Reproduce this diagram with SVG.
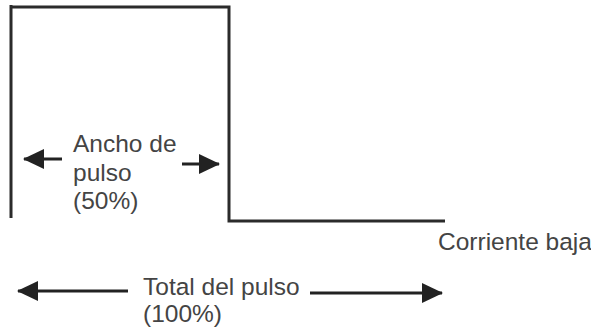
<svg xmlns="http://www.w3.org/2000/svg" width="591" height="333" viewBox="0 0 591 333">
<style>
.ln{fill:none;stroke:#2b2b2b;stroke-width:3;stroke-linejoin:miter}
.ar{fill:none;stroke:#222;stroke-width:3}
.tx{font-family:"Liberation Sans",Arial,sans-serif;font-size:24.5px;fill:#444}
</style>
<defs>
<marker id="ah" markerUnits="userSpaceOnUse" markerWidth="21" markerHeight="20" viewBox="0 0 21 20" refX="20" refY="10" orient="auto">
<path d="M0,0 L21,10 L0,20 Z" fill="#222"/>
</marker>
</defs>
<g id="pulse">
<path class="ln" d="M11,218 V5 M11,7 H229 V221 H445"/>
</g>
<g id="connectors">
<line class="ar" x1="62" y1="159" x2="24" y2="159" marker-end="url(#ah)"/>
<line class="ar" x1="182" y1="164" x2="219" y2="164" marker-end="url(#ah)"/>
<line class="ar" x1="128" y1="291" x2="18" y2="291" marker-end="url(#ah)"/>
<line class="ar" x1="310" y1="293" x2="442" y2="293" marker-end="url(#ah)"/>
</g>
<g id="ancho">
<text class="tx" x="73" y="152">Ancho de</text>
<text class="tx" x="73" y="181">pulso</text>
<text class="tx" x="73" y="209">(50%)</text>
</g>
<g id="corriente">
<text class="tx" x="438" y="250">Corriente baja</text>
</g>
<g id="total">
<text class="tx" x="143" y="295">Total del pulso</text>
<text class="tx" x="143" y="322">(100%)</text>
</g>
</svg>
